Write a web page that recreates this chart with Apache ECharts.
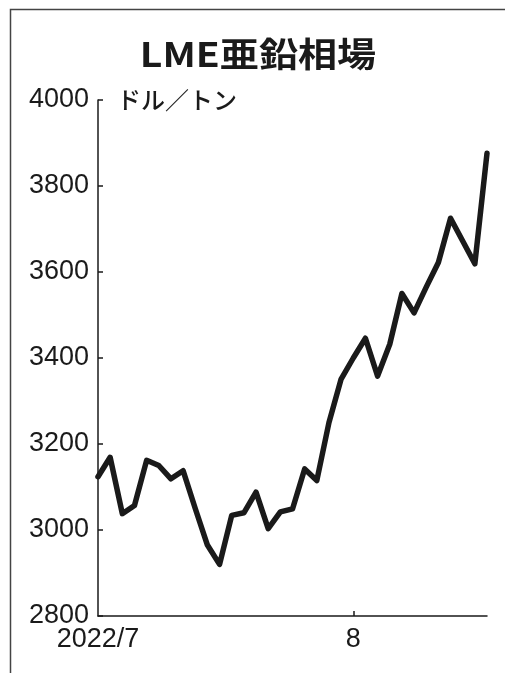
<!DOCTYPE html>
<html>
<head>
<meta charset="utf-8">
<script src="https://cdn.jsdelivr.net/npm/echarts@6/dist/echarts.min.js"></script>
<style>
  html, body { margin: 0; padding: 0; background: #ffffff; }
  #chart { width: 505px; height: 673px; }
</style>
</head>
<body>
<div id="chart"></div>
<script>
// LME zinc, USD per tonne, daily, 2022/7/1 - 2022/8/16
const dates = [
  '7/1', '7/4', '7/5', '7/6', '7/7', '7/8',
  '7/11', '7/12', '7/13', '7/14', '7/15',
  '7/18', '7/19', '7/20', '7/21', '7/22',
  '7/25', '7/26', '7/27', '7/28', '7/29',
  '8/1', '8/2', '8/3', '8/4', '8/5',
  '8/8', '8/9', '8/10', '8/11', '8/12',
  '8/15', '8/16'
]
const prices = [
  3124, 3169, 3038, 3057, 3162, 3150,
  3119, 3138, 3050, 2965, 2920,
  3034, 3040, 3088, 3003, 3042,
  3049, 3142, 3115, 3250, 3351,
  3400, 3446, 3358, 3432, 3550,
  3505, 3565, 3622, 3725, 3672,
  3619, 3876
]
const xLabels = { 0: '2022/7', 21: '8' }
const yTicks = [2800, 3000, 3200, 3400, 3600, 3800, 4000]

const INK = '#1a1a1a'
const NUM_FONT = '"Liberation Sans", Arial, sans-serif'
const JP_FONT = '"Noto Sans CJK JP", sans-serif'

const chart = echarts.init(document.getElementById('chart'))

chart.setOption({
  animation: false,
  backgroundColor: '#ffffff',
  grid: {
    left: 98,
    right: 18,
    top: 100,
    bottom: 57
  },
  xAxis: {
    type: 'category',
    data: dates,
    boundaryGap: false,
    axisLine: {
      lineStyle: { color: INK, width: 1.5 }
    },
    axisTick: {
      inside: true,
      length: 5,
      interval: idx => idx === 21,
      lineStyle: { color: INK, width: 1.5 }
    },
    axisLabel: {
      interval: idx => xLabels[idx] !== undefined,
      formatter: (value, idx) => xLabels[idx] || '',
      color: INK,
      fontFamily: NUM_FONT,
      fontSize: 27,
      margin: 10
    },
    splitLine: { show: false }
  },
  yAxis: {
    type: 'value',
    min: yTicks[0],
    max: yTicks[yTicks.length - 1],
    interval: 200,
    axisLine: {
      show: true,
      lineStyle: { color: INK, width: 1.5 }
    },
    axisTick: {
      show: true,
      inside: true,
      length: 5,
      lineStyle: { color: INK, width: 1.5 }
    },
    axisLabel: {
      formatter: value => String(value),
      color: INK,
      fontFamily: NUM_FONT,
      fontSize: 27,
      margin: 9
    },
    splitLine: { show: false }
  },
  series: [
    {
      type: 'line',
      data: prices,
      showSymbol: false,
      lineStyle: {
        color: INK,
        width: 5.5,
        join: 'round',
        cap: 'round'
      }
    }
  ],
  graphic: [
    {
      type: 'rect',
      shape: { x: 10.5, y: 9.5, width: 520, height: 700 },
      style: { fill: 'none', stroke: '#444', lineWidth: 1.5 }
    },
    {
      type: 'text',
      x: 258,
      y: 54,
      scaleX: 1.15,
      style: {
        text: 'LME亜鉛相場',
        fill: INK,
        font: 'bold 34px ' + JP_FONT,
        align: 'center',
        verticalAlign: 'middle'
      }
    },
    {
      type: 'text',
      x: 117,
      y: 100,
      style: {
        text: 'ドル／トン',
        fill: INK,
        font: '500 24px ' + JP_FONT,
        align: 'left',
        verticalAlign: 'middle'
      }
    }
  ]
})
</script>
</body>
</html>
